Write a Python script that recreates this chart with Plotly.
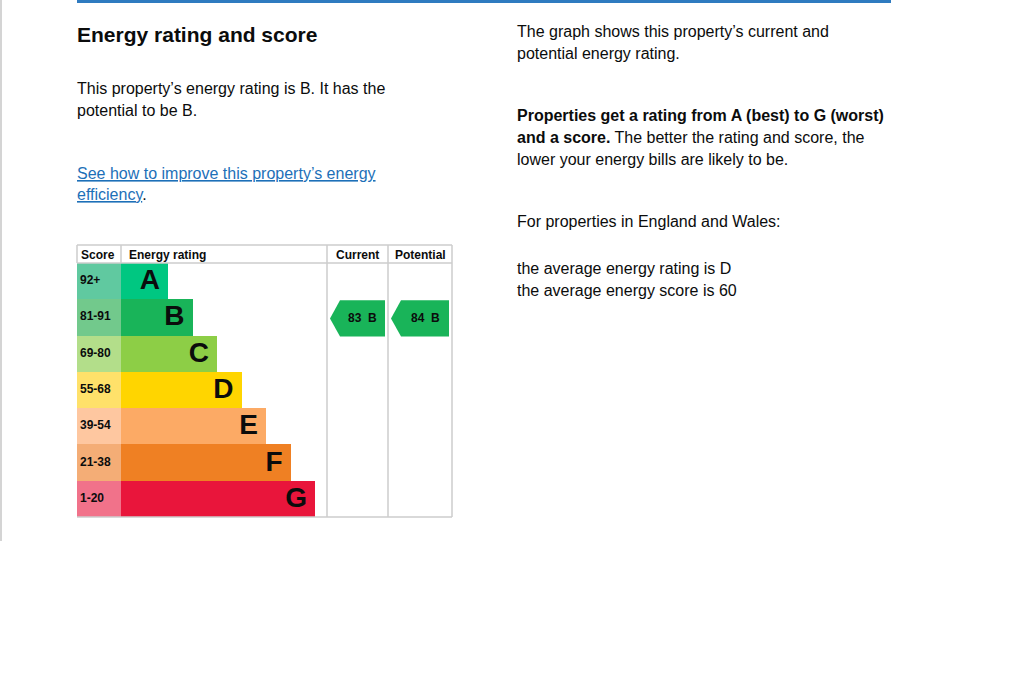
import plotly.graph_objects as go

# ---------------- data ----------------
bands = ["A", "B", "C", "D", "E", "F", "G"]
score_ranges = ["92+", "81-91", "69-80", "55-68", "39-54", "21-38", "1-20"]
band_colors = ["#00c781", "#19b459", "#8dce46", "#ffd500", "#fcaa65", "#ef8023", "#e9153b"]
score_colors = ["#60c9a0", "#72c98c", "#b3de8a", "#ffe16a", "#fec7a0", "#f4ad76", "#f1728a"]
current_score = 83
current_band = "B"
potential_score = 84
potential_band = "B"
header_labels = ["Score", "Energy rating", "Current", "Potential"]

# ---------------- geometry ----------------
W, H = 1024, 683
FONT = "Liberation Sans, Arial, Helvetica, sans-serif"
TXT = "#0b0c0c"
GRID = "#cdcdcd"

tbl_left, tbl_right = 77, 452
tbl_top, hdr_bottom, tbl_bottom = 245, 263, 517
score_right = 121
rating_right = 327
current_right = 388
row_h = (tbl_bottom - hdr_bottom) / len(bands)
row_c = [hdr_bottom + (i + 0.5) * row_h for i in range(len(bands))]
bar_first, bar_step = 47, 24.5
bar_len = [bar_first + bar_step * i for i in range(len(bands))]

fig = go.Figure()

# score cells
fig.add_trace(go.Bar(orientation="h", y=row_c, x=[score_right - tbl_left] * len(bands),
                     base=tbl_left, width=row_h, marker=dict(color=score_colors, line=dict(width=0)),
                     hoverinfo="skip", showlegend=False))
# rating bars
fig.add_trace(go.Bar(orientation="h", y=row_c, x=bar_len, base=score_right, width=row_h,
                     marker=dict(color=band_colors, line=dict(width=0)),
                     hoverinfo="skip", showlegend=False))
# band letters
fig.add_trace(go.Scatter(mode="text", x=[score_right + L - 8 for L in bar_len],
                         y=[c + 1 for c in row_c], text=bands, textposition="middle left",
                         textfont=dict(family=FONT, size=28, color=TXT, weight="bold"),
                         hoverinfo="skip", showlegend=False))
# score ranges
fig.add_trace(go.Scatter(mode="text", x=[tbl_left + 3] * len(bands), y=row_c,
                         text=["<b>%s</b>" % s for s in score_ranges], textposition="middle right",
                         textfont=dict(family=FONT, size=12, color=TXT),
                         hoverinfo="skip", showlegend=False))


def add_arrow(col_l, col_r, score, band):
    i = bands.index(band)
    c = row_c[i]
    top, bot = c - row_h / 2 + 1, c + row_h / 2 + 1
    tip = col_l + 3
    notch = tip + 10
    right = col_r - 3
    fig.add_trace(go.Scatter(x=[tip, notch, right, right, notch, tip],
                             y=[c + 1, top, top, bot, bot, c + 1],
                             mode="lines", fill="toself", fillcolor=band_colors[i],
                             line=dict(width=0, color=band_colors[i]),
                             hoverinfo="skip", showlegend=False))
    fig.add_annotation(x=(notch + right) / 2, y=c + 1, xref="x", yref="y",
                       text="<b>%d  %s</b>" % (score, band), showarrow=False,
                       xanchor="center", yanchor="middle",
                       font=dict(family=FONT, size=12, color=TXT))


add_arrow(rating_right, current_right, current_score, current_band)
add_arrow(current_right, tbl_right, potential_score, potential_band)

shapes = []
def line(x0, y0, x1, y1, color=GRID, w=1.5):
    shapes.append(dict(type="line", xref="x", yref="y", x0=x0, y0=y0, x1=x1, y1=y1,
                       line=dict(color=color, width=w), layer="above"))

# table grid
line(tbl_left, tbl_top, tbl_right, tbl_top)
line(tbl_left, hdr_bottom, tbl_right, hdr_bottom)
line(tbl_left, tbl_bottom, tbl_right, tbl_bottom)
line(tbl_left, tbl_top, tbl_left, hdr_bottom)
line(score_right, tbl_top, score_right, hdr_bottom)
line(rating_right, tbl_top, rating_right, tbl_bottom)
line(current_right, tbl_top, current_right, tbl_bottom)
line(tbl_right, tbl_top, tbl_right, tbl_bottom)

# page decorations
shapes.append(dict(type="rect", xref="x", yref="y", x0=77, x1=891, y0=0, y1=3,
                   fillcolor="#2f7bc0", line=dict(width=0)))
shapes.append(dict(type="rect", xref="x", yref="y", x0=0, x1=2, y0=0, y1=541,
                   fillcolor="#d4d4d4", line=dict(width=0)))

# headers
hdr_y = (tbl_top + hdr_bottom) / 2 + 1
hdr_pos = [(tbl_left + 2, "left"), (score_right + 6, "left"),
           ((rating_right + current_right) / 2, "center"), ((current_right + tbl_right) / 2, "center")]
for lab, (hx, anc) in zip(header_labels, hdr_pos):
    fig.add_annotation(x=hx, y=hdr_y, xref="x", yref="y", text="<b>%s</b>" % lab, showarrow=False,
                       xanchor=anc, yanchor="middle", font=dict(family=FONT, size=12, color=TXT))

# text blocks
def txt(x, y, s, size=16, color=TXT):
    fig.add_annotation(x=x, y=y, xref="x", yref="y", text=s, showarrow=False,
                       xanchor="left", yanchor="middle", font=dict(family=FONT, size=size, color=color))

txt(75, 34, "<b>Energy rating and score</b>", size=21)
txt(75, 88, "This property’s energy rating is B. It has the")
txt(75, 110, "potential to be B.")
txt(75, 173, "<u>See how to improve this property’s energy</u>", color="#1d70b8")
txt(75, 194, "<u>efficiency</u><span style='color:#0b0c0c'>.</span>", color="#1d70b8")

txt(515, 31, "The graph shows this property’s current and")
txt(515, 53, "potential energy rating.")
txt(515, 115, "<b>Properties get a rating from A (best) to G (worst)</b>")
txt(515, 137, "<b>and a score.</b> The better the rating and score, the")
txt(515, 159, "lower your energy bills are likely to be.")
txt(515, 221, "For properties in England and Wales:")
txt(515, 268, "the average energy rating is D")
txt(515, 290, "the average energy score is 60")

fig.update_layout(
    width=W, height=H, margin=dict(l=0, r=0, t=0, b=0),
    paper_bgcolor="white", plot_bgcolor="white",
    barmode="overlay", bargap=0, shapes=shapes,
    xaxis=dict(range=[0, W], visible=False, fixedrange=True),
    yaxis=dict(range=[H, 0], visible=False, fixedrange=True),
    showlegend=False,
)

fig.write_html("out.html", config={"displayModeBar": False})
